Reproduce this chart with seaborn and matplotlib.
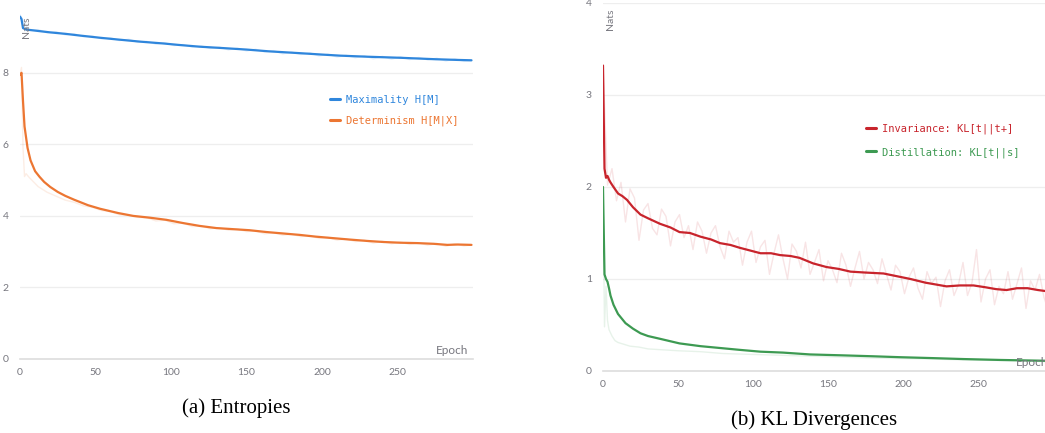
import matplotlib
matplotlib.use("Agg")
import matplotlib.pyplot as plt
import seaborn as sns

# ---------------- data ----------------
# (a) Entropies
max_ep = [0, 1, 2, 4, 10, 20, 30, 40, 53, 65, 80, 95, 105, 119, 135, 150, 165, 185, 200, 212, 230, 252, 275, 290, 299]
max_smooth = [9.57, 9.50, 9.25, 9.21, 9.18, 9.13, 9.09, 9.04, 8.98, 8.93, 8.87, 8.82, 8.78, 8.73, 8.69, 8.65, 8.60, 8.55, 8.51, 8.48, 8.45, 8.42, 8.38, 8.36, 8.35]
max_raw_ep = list(range(0, 295, 6)) + [299]
max_raw = [9.62, 9.18, 9.21, 9.12, 9.15, 9.06, 9.09, 9.01, 9.03, 8.95,
           8.98, 8.90, 8.94, 8.85, 8.88, 8.80, 8.84, 8.76, 8.79, 8.72,
           8.75, 8.68, 8.72, 8.64, 8.69, 8.61, 8.66, 8.58, 8.62, 8.53,
           8.58, 8.51, 8.56, 8.47, 8.52, 8.44, 8.49, 8.42, 8.48, 8.39,
           8.46, 8.38, 8.45, 8.37, 8.43, 8.36, 8.41, 8.33, 8.39, 8.32, 8.34]

det_ep = [0, 1, 2, 3, 5, 7, 10, 13, 16, 20, 25, 30, 36, 45, 53, 65, 75, 86, 97, 108, 119, 130, 141, 152, 163, 174, 185, 196, 207, 218, 230, 241, 252, 263, 274, 283, 290, 299]
det_smooth = [7.94, 8.00, 7.20, 6.50, 5.90, 5.55, 5.25, 5.09, 4.95, 4.81, 4.67, 4.56, 4.45, 4.30, 4.20, 4.08, 4.00, 3.95, 3.89, 3.80, 3.72, 3.66, 3.63, 3.60, 3.55, 3.51, 3.47, 3.42, 3.38, 3.34, 3.30, 3.27, 3.25, 3.24, 3.22, 3.19, 3.20, 3.19]
det_raw_ep = [0, 1, 2, 3, 4] + list(range(6, 295, 6)) + [299]
det_raw = [7.95, 8.15, 5.90, 5.10, 5.18,
           5.08, 4.82, 4.66, 4.55, 4.44, 4.38, 4.28, 4.24, 4.15, 4.12,
           4.03, 4.02, 3.96, 3.95, 3.86, 3.88, 3.78, 3.80, 3.70, 3.72,
           3.64, 3.67, 3.60, 3.63, 3.56, 3.58, 3.50, 3.53, 3.46, 3.49,
           3.42, 3.45, 3.37, 3.40, 3.32, 3.36, 3.28, 3.32, 3.24, 3.29,
           3.22, 3.27, 3.20, 3.25, 3.18, 3.23, 3.15, 3.22, 3.16, 3.19]

# (b) KL Divergences
inv_ep = [0, 1, 2, 3, 4, 5, 7, 10, 13, 16, 20, 25, 30, 38, 45, 51, 58, 65, 72, 78, 85, 91, 98, 105, 112, 118, 125, 131, 140, 149, 157, 165, 175, 187, 196, 205, 215, 222, 229, 238, 247, 255, 262, 269, 276, 283, 290, 299]
inv_smooth = [3.32, 2.20, 2.10, 2.12, 2.08, 2.05, 2.00, 1.93, 1.90, 1.86, 1.78, 1.70, 1.66, 1.60, 1.56, 1.51, 1.50, 1.46, 1.43, 1.39, 1.37, 1.34, 1.31, 1.28, 1.28, 1.26, 1.25, 1.23, 1.17, 1.13, 1.11, 1.08, 1.07, 1.06, 1.03, 1.00, 0.96, 0.94, 0.92, 0.93, 0.93, 0.91, 0.89, 0.88, 0.90, 0.90, 0.88, 0.86]
inv_raw_ep = list(range(0, 298, 3))
inv_raw = [3.32, 2.02, 2.20, 1.85, 2.05, 1.62, 1.98, 1.88, 1.42, 1.75,
           1.82, 1.55, 1.48, 1.76, 1.68, 1.36, 1.62, 1.70, 1.45, 1.58,
           1.32, 1.62, 1.52, 1.28, 1.50, 1.58, 1.35, 1.22, 1.52, 1.40,
           1.45, 1.15, 1.40, 1.52, 1.18, 1.35, 1.42, 1.05, 1.28, 1.48,
           1.22, 1.00, 1.38, 1.30, 1.12, 1.40, 1.05, 1.18, 1.32, 0.98,
           1.20, 1.10, 0.96, 1.28, 1.15, 0.92, 1.12, 1.30, 1.00, 1.18,
           1.10, 0.95, 1.22, 1.05, 0.88, 1.15, 1.08, 0.84, 1.02, 1.12,
           0.90, 0.78, 1.08, 0.95, 1.02, 0.70, 0.98, 1.10, 0.82, 0.94,
           1.18, 0.82, 0.96, 1.32, 0.75, 1.00, 1.10, 0.72, 0.92, 0.84,
           1.08, 0.78, 0.95, 1.12, 0.68, 0.98, 0.88, 1.05, 0.80, 0.65]

dist_ep = [0, 1, 2, 3, 4, 5, 7, 10, 15, 20, 25, 30, 38, 51, 65, 78, 91, 105, 120, 138, 160, 180, 198, 220, 240, 265, 299]
dist_smooth = [2.00, 1.05, 1.00, 0.97, 0.90, 0.82, 0.72, 0.62, 0.52, 0.46, 0.41, 0.38, 0.35, 0.30, 0.27, 0.25, 0.23, 0.21, 0.20, 0.18, 0.17, 0.16, 0.15, 0.14, 0.13, 0.12, 0.11]
dist_raw_ep = [0, 1, 2, 3, 4, 6, 8, 10, 14, 18, 24, 30, 40, 50, 65, 80, 100, 120, 140, 160, 180, 200, 220, 240, 260, 280, 299]
dist_raw = [2.00, 0.48, 0.92, 0.55, 0.45, 0.38, 0.33, 0.31, 0.29, 0.27, 0.26, 0.24, 0.23, 0.22, 0.21, 0.19, 0.18, 0.17, 0.16, 0.15, 0.14, 0.135, 0.13, 0.12, 0.115, 0.11, 0.10]

left_yticks = [0, 2, 4, 6, 8]
right_yticks = [0, 1, 2, 3, 4]
xticks = [0, 50, 100, 150, 200, 250]

labels_a = ["Maximality H[M]", "Determinism H[M|X]"]
labels_b = ["Invariance: KL[t||t+]", "Distillation: KL[t||s]"]
captions = ["(a) Entropies", "(b) KL Divergences"]

# ---------------- style ----------------
sns.set_theme(style="white")
plt.rcParams["font.family"] = ["Lato", "DejaVu Sans"]

BLUE = "#2f86dc"
ORANGE = "#ec7632"
RED = "#c8242c"
GREEN = "#3d9a52"
TICK = "#77777f"
GRID = "#eeeeee"

W, H = 1045, 433
fig = plt.figure(figsize=(W / 100, H / 100), dpi=100)

def px_axes(x0, x1, ytop, ybot):
    return fig.add_axes([x0 / W, 1 - ybot / H, (x1 - x0) / W, (ybot - ytop) / H])

ax1 = px_axes(20, 473, 12, 359)
ax2 = px_axes(603, 1053, 3, 371)

def style(ax, ylim, yticks):
    ax.set_xlim(0, 300)
    ax.set_ylim(*ylim)
    ax.set_xticks(xticks)
    ax.set_yticks(yticks)
    for s in ["top", "right", "left"]:
        ax.spines[s].set_visible(False)
    ax.spines["bottom"].set_color("#dddddd")
    ax.spines["bottom"].set_linewidth(1.2)
    ax.grid(axis="y", color=GRID, linewidth=0.9)
    ax.set_axisbelow(True)
    ax.tick_params(axis="x", direction="inout", length=5, width=0.8, color="#dddddd",
                   labelsize=7.5, labelcolor=TICK, pad=4)
    ax.tick_params(axis="y", length=0, labelsize=7.5, labelcolor=TICK, pad=8)
    ax.set_xlabel("")
    ax.set_ylabel("")
    ax.annotate("Nats", xy=(0, 1), xycoords="axes fraction", xytext=(7, -5),
                textcoords="offset pixels", rotation=90, ha="center", va="top",
                fontsize=7.5, color=TICK)
    ax.annotate("Epoch", xy=(1, 0), xycoords="axes fraction", xytext=(-5, 3),
                textcoords="offset pixels", ha="right", va="bottom",
                fontsize=8.5, color=TICK)

# (a)
sns.lineplot(x=max_raw_ep, y=max_raw, ax=ax1, color=BLUE, alpha=0.13, lw=1, legend=False)
sns.lineplot(x=det_raw_ep, y=det_raw, ax=ax1, color=ORANGE, alpha=0.13, lw=1, legend=False)
sns.lineplot(x=max_ep, y=max_smooth, ax=ax1, color=BLUE, lw=1.6, label=labels_a[0])
sns.lineplot(x=det_ep, y=det_smooth, ax=ax1, color=ORANGE, lw=1.6, label=labels_a[1])
style(ax1, (0, 9.7), left_yticks)

# (b)
sns.lineplot(x=inv_raw_ep, y=inv_raw, ax=ax2, color=RED, alpha=0.12, lw=1, legend=False)
sns.lineplot(x=dist_raw_ep, y=dist_raw, ax=ax2, color=GREEN, alpha=0.12, lw=1, legend=False)
sns.lineplot(x=inv_ep, y=inv_smooth, ax=ax2, color=RED, lw=1.6, label=labels_b[0])
sns.lineplot(x=dist_ep, y=dist_smooth, ax=ax2, color=GREEN, lw=1.6, label=labels_b[1])
style(ax2, (0, 4), right_yticks)

def legend(ax, anchor, colors, spacing):
    leg = ax.legend(loc="upper left", bbox_to_anchor=anchor, frameon=False,
                    prop={"family": "DejaVu Sans Mono", "size": 7.5},
                    handlelength=1.0, handletextpad=0.5, labelspacing=spacing,
                    borderpad=0, borderaxespad=0)
    for t, c in zip(leg.get_texts(), colors):
        t.set_color(c)
    for l in leg.get_lines():
        l.set_linewidth(2.2)
        l.set_alpha(1)

legend(ax1, ((330 - 20) / 453, (359 - 95) / 347), [BLUE, ORANGE], 1.0)
legend(ax2, ((866 - 603) / 450, (371 - 124) / 368), [RED, GREEN], 1.2)

fig.text(236 / W, 1 - 408 / H, captions[0], ha="center", va="center",
         family="Liberation Serif", fontsize=15, color="black")
fig.text(814 / W, 1 - 420 / H, captions[1], ha="center", va="center",
         family="Liberation Serif", fontsize=15, color="black")

fig.savefig("out.png", dpi=100)
